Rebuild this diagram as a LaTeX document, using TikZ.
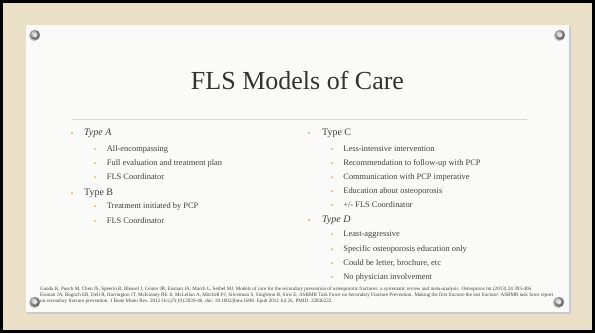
\documentclass[tikz,border=0pt]{standalone}
\usepackage{fontspec}
\setmainfont{Liberation Serif}
\usetikzlibrary{positioning}

\definecolor{burlap}{HTML}{EAE0C8}
\definecolor{paper}{HTML}{FAFAF9}
\definecolor{gold}{HTML}{E3B35A}
\definecolor{rulegold}{HTML}{E9D8AA}
\definecolor{ink}{HTML}{404040}

\tikzset{
  lvlone/.style={anchor=west, inner sep=0pt, text=ink, font=\fontsize{10}{12}\selectfont, text height=7pt, text depth=2pt},
  lvltwo/.style={lvlone, font=\fontsize{8.4}{10}\selectfont, text height=5.8pt, text depth=1.7pt},
  dotone/.style={circle, fill=gold, inner sep=0pt, minimum size=2.4pt},
  dottwo/.style={dotone, minimum size=2pt},
  grommet/.style={circle, inner sep=0pt, minimum size=10pt, draw=gray!75, line width=.4pt, ball color=gray!55},
  hole/.style={circle, inner sep=0pt, minimum size=4.6pt, fill=gray!20, draw=gray!70, line width=.3pt}
}

\begin{document}
\begin{tikzpicture}[x=1pt, y=-1pt]
\useasboundingbox (0,0) rectangle (595,333);
\fill[black] (0,0) rectangle (595,333);
\fill[burlap] (3,3) rectangle (592,330);
\fill[black!20] (27,26) rectangle (571,314);
\fill[paper] (26,25) rectangle (569,312);

\node[font=\fontsize{26}{29}\selectfont, text=black!80, inner sep=0pt, text height=18pt, text depth=4pt] (title) at (297.5,82) {FLS Models of Care};
\draw[rulegold, line width=.8pt] (72,119) coordinate (rulel) -- (527,119) coordinate (ruler);

% left column
\node[dotone] (ba) at (72,133) {};
\node[lvlone, right=10.5pt of ba] (typea) {\itshape Type A};
\node[dotone] (bb) at (72,193) {};
\node[lvlone, right=10.5pt of bb] (typeb) {Type B};
\foreach \y/\txt [count=\i] in {149/All-encompassing, 163/Full evaluation and treatment plan, 177/FLS Coordinator, 206/Treatment initiated by PCP, 221/FLS Coordinator}{
  \node[dottwo] (la\i) at (95,\y) {};
  \node[lvltwo, right=10.5pt of la\i] (lt\i) {\txt};
}

% right column
\node[dotone] (bc) at (309,133) {};
\node[lvlone, right=11.5pt of bc] (typec) {Type C};
\node[dotone] (bd) at (309,220) {};
\node[lvlone, right=11.5pt of bd] (typed) {\itshape Type D};
\foreach \y/\txt [count=\i] in {149/Less-intensive intervention, 163/Recommendation to follow-up with PCP, 177/Communication with PCP imperative, 191/Education about osteoporosis, 205/{+/- FLS Coordinator}, 234/Least-aggressive, 249/Specific osteoporosis education only, 263/{Could be letter, brochure, etc}, 277/No physician involvement}{
  \node[dottwo] (ra\i) at (332,\y) {};
  \node[lvltwo, right=10pt of ra\i] (rt\i) {\txt};
}

\node[anchor=north west, inner sep=0pt, text=ink, align=left, font=\fontsize{5.1}{6}\selectfont] (refs) at (40,286.5) {Ganda K, Puech M, Chen JS, Speerin R, Bleasel J, Center JR, Eisman JA, March L, Seibel MJ. Models of care for the secondary prevention of osteoporotic fractures: a systematic review and meta-analysis. Osteoporos Int (2013) 24 393-406.\\
Eisman JA, Bogoch ER, Dell R, Harrington JT, McKinney RE Jr, McLellan A, Mitchell PJ, Silverman S, Singleton R, Siris E; ASBMR Task Force on Secondary Fracture Prevention. Making the first fracture the last fracture: ASBMR task force report\\
on secondary fracture prevention. J Bone Miner Res. 2012 Oct;27(10):2039-46. doi: 10.1002/jbmr.1698. Epub 2012 Jul 26. PMID: 22836222.};

\foreach \p/\q [count=\i] in {35/35, 560/35, 35/302, 559/302}{
  \fill[black!30, opacity=.6] (\p-.8,\q+.9) circle (5.4pt);
  \node[grommet] (g\i) at (\p,\q) {};
  \node[hole] at (g\i) {};
}
\end{tikzpicture}
\end{document}
